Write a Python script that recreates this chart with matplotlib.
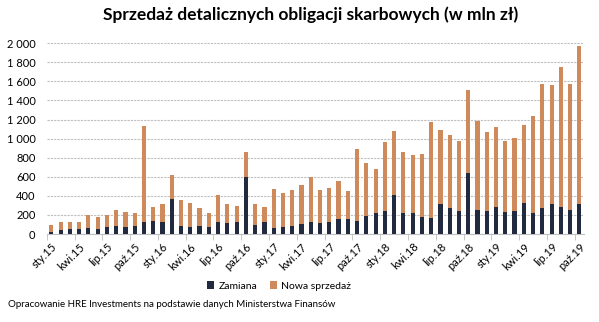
import numpy as np
import matplotlib.pyplot as plt

# Dane (mln zł), sty.15 - paź.19
months = ["sty", "lut", "mar", "kwi", "maj", "cze", "lip", "sie", "wrz", "paź", "lis", "gru"]
labels = [f"{m}.{y}" for y in range(15, 20) for m in months][:58]

zamiana = [20, 38, 49, 49, 59, 49, 70, 87, 70, 80, 122, 133,
           122, 370, 87, 70, 80, 70, 122, 112, 122, 593, 91, 122,
           59, 70, 80, 101, 122, 112, 122, 161, 161, 140, 185, 216,
           244, 405, 223, 223, 181, 171, 318, 276, 244, 642, 255, 244,
           286, 234, 244, 328, 223, 276, 318, 286, 255, 318]
suma = [95, 122, 122, 122, 202, 175, 202, 255, 234, 216, 1127, 279,
        311, 621, 360, 328, 269, 216, 405, 311, 290, 862, 311, 279,
        475, 426, 464, 510, 593, 464, 485, 558, 454, 893, 747, 684,
        967, 1082, 862, 831, 841, 1176, 1092, 1040, 977, 1511, 1187, 1071,
        1124, 977, 1009, 1145, 1239, 1574, 1564, 1752, 1574, 1972]
nowa = [s - z for s, z in zip(suma, zamiana)]

dark = "#222A3F"
orange = "#CF8A5C"

plt.rcParams['font.family'] = ['Lato', 'DejaVu Sans']

fig = plt.figure(figsize=(5.99, 3.22), dpi=100)
ax = fig.add_axes([0.078, 0.273, 0.897, 0.593])

x = np.arange(len(labels))
ax.bar(x, zamiana, width=0.45, color=dark, label="Zamiana", zorder=3)
ax.bar(x, nowa, width=0.45, bottom=zamiana, color=orange, label="Nowa sprzedaż", zorder=3)

ax.set_xlim(-0.5, len(labels) - 0.5)
ax.set_ylim(0, 2000)
ax.set_yticks(range(0, 2001, 200))
ax.set_yticklabels([f"{v:,}".replace(",", " ") for v in range(0, 2001, 200)], fontsize=8)
ax.yaxis.grid(True, linestyle=(0, (2, 1)), color="#BFBFBF", linewidth=0.8, zorder=0)
ax.tick_params(axis='y', length=0, pad=8)

ax.set_xticks(x[::3])
ax.set_xticklabels(labels[::3], rotation=45, ha='right', rotation_mode='anchor', fontsize=8)
ax.set_xticks(np.arange(-0.5, len(labels), 3), minor=True)
ax.tick_params(axis='x', which='major', length=0, pad=5)
ax.tick_params(axis='x', which='minor', length=4, color="#BFBFBF")

for s in ["top", "right", "left"]:
    ax.spines[s].set_visible(False)
ax.spines["bottom"].set_color("#BFBFBF")

fig.text(0.518, 0.953, "Sprzedaż detalicznych obligacji skarbowych (w mln zł)",
         ha='center', va='center', fontsize=12.5, fontweight='bold')
fig.legend(loc='center', bbox_to_anchor=(0.466, 0.112), ncol=2, frameon=False,
           fontsize=7.5, handlelength=0.7, handleheight=0.7, columnspacing=1.2, handletextpad=0.4)
fig.text(0.013, 0.053, "Opracowanie HRE Investments na podstawie danych Ministerstwa Finansów",
         ha='left', va='center', fontsize=7)

fig.savefig("out.png", dpi=100)
